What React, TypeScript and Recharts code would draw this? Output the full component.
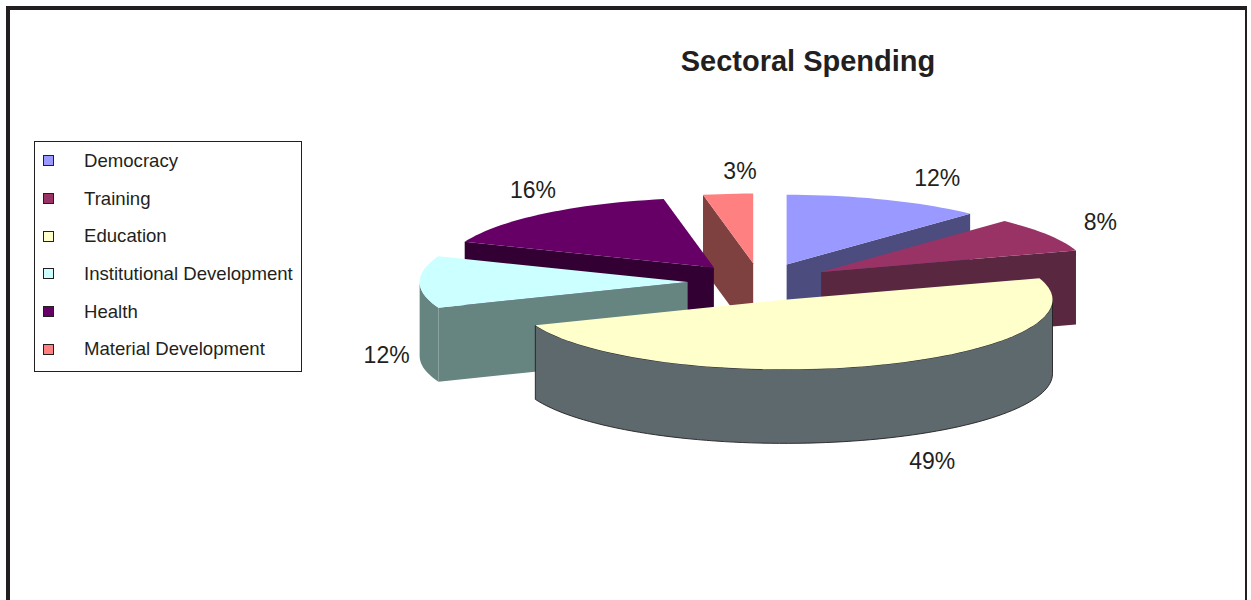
import { PieChart, Pie, Cell, Legend } from "recharts";

const SECTORS = ["Democracy", "Training", "Education", "Institutional Development", "Health", "Material Development"];
const SHARES = [12, 8, 49, 12, 16, 3];

const TOP_COLORS = ["#9999ff", "#993366", "#ffffcc", "#ccffff", "#660066", "#ff8080"];
const SIDE_COLORS = ["#4c4c7e", "#5a2740", "#5e696e", "#668480", "#330033", "#7f4040"];
const EDGE_COLORS = ["none", "none", "#231f20", "none", "none", "none"];
const LABEL_NUDGE = [[52, -22], [53, -13], [57, 22], [-33, -1], [-10, -24], [12, -23]];

const INK = "#231f20";
const FONT = "'Liberation Sans', Arial, sans-serif";
const TILT = 0.26; // ry / rx
const DEPTH = 74;
const EXPLODE = 0.27; // of radius
const RAD = Math.PI / 180;

const data = SECTORS.map((name, i) => ({ name, value: SHARES[i] }));

// back slices first so front ones paint over them
const total = SHARES.reduce((s, v) => s + v, 0);
let acc = 0;
const mids = SHARES.map((v) => {
  const m = 90 - (360 * (acc + v / 2)) / total;
  acc += v;
  return m;
});
const DRAW_ORDER = SECTORS.map((_, i) => i).sort((a, b) => Math.sin(mids[b] * RAD) - Math.sin(mids[a] * RAD));

function geom(p: any) {
  const rx = p.outerRadius;
  const ry = rx * TILT;
  const e = rx * EXPLODE;
  const ax = p.cx + e * Math.cos(p.midAngle * RAD);
  const ay = p.cy - e * TILT * Math.sin(p.midAngle * RAD);
  const pt = (a: number, dz = 0): [number, number] => [ax + rx * Math.cos(a * RAD), ay - ry * Math.sin(a * RAD) + dz];
  return { ax, ay, pt };
}

function arc(pt: (a: number, dz?: number) => [number, number], a0: number, a1: number, dz = 0) {
  const n = Math.max(2, Math.ceil(Math.abs(a1 - a0) / 2));
  const out: [number, number][] = [];
  for (let k = 0; k <= n; k++) out.push(pt(a0 + ((a1 - a0) * k) / n, dz));
  return out;
}

const poly = (pts: [number, number][]) => "M" + pts.map((q) => q[0].toFixed(2) + "," + q[1].toFixed(2)).join("L") + "Z";

function makeShape(target: number) {
  return (props: any) => {
    const idx = SECTORS.indexOf(props.payload?.name ?? props.name);
    if (idx !== target) return <g />;
    const s = props.startAngle;
    const e = props.endAngle;
    const { ax, ay, pt } = geom(props);
    const side = SIDE_COLORS[idx];
    const faces: JSX.Element[] = [];

    if (Math.cos(s * RAD) < 0) {
      faces.push(<path key="fs" d={poly([[ax, ay], pt(s), pt(s, DEPTH), [ax, ay + DEPTH]])} fill={side} />);
    }
    if (Math.cos(e * RAD) > 0) {
      faces.push(<path key="fe" d={poly([[ax, ay], pt(e), pt(e, DEPTH), [ax, ay + DEPTH]])} fill={side} />);
    }
    const lo = Math.min(s, e);
    const hi = Math.max(s, e);
    for (let k = -2; k <= 1; k++) {
      const w0 = Math.max(lo, -180 + 360 * k);
      const w1 = Math.min(hi, 360 * k);
      if (w1 > w0) {
        faces.push(
          <path
            key={"w" + k}
            d={poly([...arc(pt, w0, w1), ...arc(pt, w1, w0, DEPTH)])}
            fill={side}
            stroke={EDGE_COLORS[idx]}
            strokeWidth={0.9}
          />
        );
      }
    }
    return (
      <g>
        {faces}
        <path d={poly([[ax, ay], ...arc(pt, s, e)])} fill={props.fill} />
      </g>
    );
  };
}

const renderLabel = (props: any) => {
  const idx = props.index ?? SECTORS.indexOf(props.name ?? props.payload?.name);
  const { pt } = geom(props);
  const front = Math.sin(props.midAngle * RAD) <= 0.01;
  const [x, y] = pt(props.midAngle, front ? DEPTH : 0);
  const [dx, dy] = LABEL_NUDGE[idx];
  return (
    <text
      key={"lbl" + idx}
      x={x + dx}
      y={y + dy}
      textAnchor="middle"
      dominantBaseline="central"
      fontSize={23}
      fontFamily={FONT}
      fill={INK}
    >
      {Math.round(props.percent * 100)}%
    </text>
  );
};

const renderLegend = (props: any) => {
  const seen = new Set<string>();
  const items = (props.payload || [])
    .filter((it: any) => {
      if (seen.has(it.value)) return false;
      seen.add(it.value);
      return true;
    })
    .sort((a: any, b: any) => SECTORS.indexOf(a.value) - SECTORS.indexOf(b.value));
  return (
    <div
      style={{
        width: 268,
        boxSizing: "border-box",
        border: `1px solid ${INK}`,
        background: "#fff",
        fontFamily: FONT,
        fontSize: 18.6,
        color: INK,
        paddingBottom: 3,
      }}
    >
      {items.map((it: any) => (
        <div key={it.value} style={{ height: 37.7, display: "flex", alignItems: "center" }}>
          <span
            style={{
              display: "inline-block",
              width: 9,
              height: 9,
              marginLeft: 8,
              border: `1.5px solid ${INK}`,
              background: it.color,
            }}
          />
          <span style={{ marginLeft: 30 }}>{it.value}</span>
        </div>
      ))}
    </div>
  );
};

export default function App() {
  return (
    <div>
      <div
        style={{
          position: "absolute",
          left: 6,
          top: 6,
          width: 1241,
          height: 700,
          boxSizing: "border-box",
          borderLeft: `4px solid ${INK}`,
          borderTop: `4px solid ${INK}`,
          borderRight: `2px solid ${INK}`,
        }}
      />
      <div
        style={{
          position: "absolute",
          left: 608,
          top: 43,
          width: 400,
          textAlign: "center",
          fontFamily: FONT,
          fontWeight: "bold",
          fontSize: 29,
          lineHeight: "36px",
          color: INK,
        }}
      >
        Sectoral Spending
      </div>
      <div style={{ position: "absolute", left: 0, top: 0 }}>
        <PieChart width={1251} height={600} margin={{ top: 0, right: 0, bottom: 0, left: 0 }}>
          {DRAW_ORDER.map((target, k) => (
            <Pie
              key={target}
              data={data}
              dataKey="value"
              nameKey="name"
              cx={760}
              cy={282}
              outerRadius={268}
              startAngle={90}
              endAngle={-270}
              stroke="none"
              isAnimationActive={false}
              shape={makeShape(target)}
              activeShape={makeShape(target)}
              inactiveShape={makeShape(target)}
              legendType={k === 0 ? "square" : "none"}
              label={k === DRAW_ORDER.length - 1 ? renderLabel : false}
              labelLine={false}
            >
              {data.map((d, i) => (
                <Cell key={d.name} fill={TOP_COLORS[i]} />
              ))}
            </Pie>
          ))}
          <Legend
            content={renderLegend}
            layout="vertical"
            align="center"
            verticalAlign="middle"
            itemSorter={null as any}
            wrapperStyle={{ left: 34, top: 141, width: 268 }}
          />
        </PieChart>
      </div>
    </div>
  );
}
